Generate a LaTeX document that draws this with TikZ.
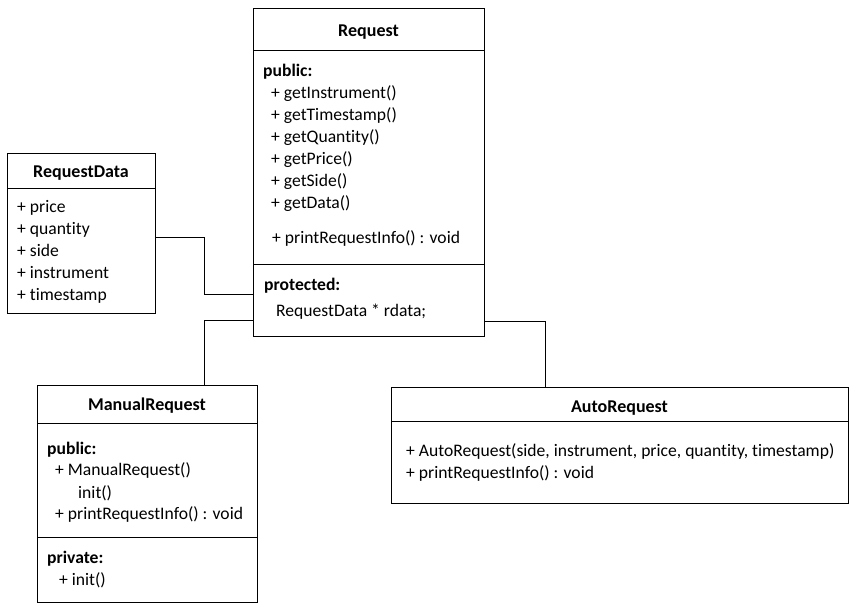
\documentclass[tikz,border=0pt]{standalone}
\usepackage{fontspec}
\setmainfont{Carlito}[Ligatures=NoCommon]
\begin{document}
\begin{tikzpicture}[x=1pt,y=-1pt,
  box/.style={draw, line width=1pt, rectangle, inner sep=0pt, anchor=north west},
  txt/.style={inner sep=0pt, anchor=base west, yshift=-1pt, font=\fontsize{17.6}{20}\selectfont},
  ttl/.style={inner sep=0pt, anchor=base, yshift=-1pt, font=\fontsize{18}{20}\selectfont\bfseries},
  sec/.style={inner sep=0pt, anchor=base west, yshift=-1pt, font=\fontsize{17.6}{20}\selectfont\bfseries},
  sep/.style={line width=1pt},
  conn/.style={line width=1pt}]
\useasboundingbox (0,0) rectangle (857,614);

% Request
\node[box, minimum width=231pt, minimum height=328pt] (req) at (253,8) {};
\draw[sep] (253,50) -- (484,50);
\draw[sep] (253,264) -- (484,264);
\node[ttl] (reqt) at (368.5,35) {Request};
\node[sec] (reqpub) at (263,75) {public:};
\node[txt] (r1) at (271,97) {+ getInstrument()};
\node[txt] (r2) at (271,119) {+ getTimestamp()};
\node[txt] (r3) at (271,141) {+ getQuantity()};
\node[txt] (r4) at (271,163) {+ getPrice()};
\node[txt] (r5) at (271,185) {+ getSide()};
\node[txt] (r6) at (271,207) {+ getData()};
\node[txt] (r7) at (272,242) {+ printRequestInfo() : void};
\node[sec] (reqprot) at (264,289) {protected:};
\node[txt] (r8) at (276,315) {RequestData * rdata;};

% RequestData
\node[box, minimum width=148pt, minimum height=160pt] (rd) at (7,153) {};
\draw[sep] (7,188) -- (155,188);
\node[ttl] (rdt) at (81,176) {RequestData};
\node[txt] (d1) at (17,211) {+ price};
\node[txt] (d2) at (17,233) {+ quantity};
\node[txt] (d3) at (17,255) {+ side};
\node[txt] (d4) at (17,277) {+ instrument};
\node[txt] (d5) at (17,299) {+ timestamp};

% ManualRequest
\node[box, minimum width=220pt, minimum height=217pt] (man) at (37,385) {};
\draw[sep] (37,423) -- (257,423);
\draw[sep] (37,537) -- (257,537);
\node[ttl] (mant) at (147,409) {ManualRequest};
\node[sec] (manpub) at (47,453) {public:};
\node[txt] (m1) at (55,474) {+ ManualRequest()};
\node[txt] (m2) at (78,497) {init()};
\node[txt] (m3) at (55,518) {+ printRequestInfo() : void};
\node[sec] (manpriv) at (47,562) {private:};
\node[txt] (m4) at (59,584) {+ init()};

% AutoRequest
\node[box, minimum width=457pt, minimum height=116pt] (auto) at (391,387) {};
\draw[sep] (391,421) -- (848,421);
\node[ttl] (autot) at (619.5,411) {AutoRequest};
\node[txt] (a1) at (406,455) {+ AutoRequest(side, instrument, price, quantity, timestamp)};
\node[txt] (a2) at (406,477) {+ printRequestInfo() : void};

% connectors
\draw[conn] (rd.east |- 0,237) -- (204,237) |- (req.west |- 0,294);
\draw[conn] (req.west |- 0,320) -| (man.north -| 204,0);
\draw[conn] (req.east |- 0,321) -| (auto.north -| 545,0);
\end{tikzpicture}
\end{document}
